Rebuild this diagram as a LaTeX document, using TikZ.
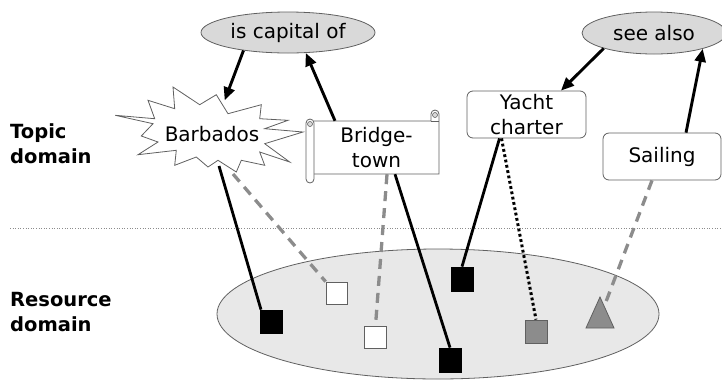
\documentclass[tikz,border=0pt]{standalone}
\usepackage{fontspec}
\setmainfont{DejaVu Sans}
\usetikzlibrary{arrows.meta,shapes.geometric}
\definecolor{ovalfill}{HTML}{D9D9D9}
\definecolor{resfill}{HTML}{E8E8E8}
\definecolor{dashgray}{HTML}{8C8C8C}
\definecolor{edgegray}{HTML}{606060}
\begin{document}
\begin{tikzpicture}[x=1pt,y=-1pt,
  txt/.style={font=\fontsize{20}{25}\selectfont, align=center, inner sep=0pt},
  oval/.style={txt, ellipse, draw=edgegray, line width=0.8pt, fill=ovalfill},
  topicbox/.style={txt, rectangle, rounded corners=6pt, draw=edgegray, line width=0.8pt, fill=white},
  lbl/.style={font=\fontsize{19.5}{25}\selectfont\bfseries, anchor=base west, inner sep=0pt},
  arr/.style={line width=2.9pt, -{Triangle[length=13pt,width=11pt]}},
  solidln/.style={line width=2.8pt},
  dashln/.style={line width=3.3pt, dashgray, dash pattern=on 10pt off 7pt},
  dotln/.style={line width=3pt, dash pattern=on 2.8pt off 2.6pt},
  sqbase/.style={rectangle, inner sep=0pt, line width=0.8pt, minimum width=22pt, minimum height=23pt},
  blacksq/.style={sqbase, fill=black, draw=black},
  whitesq/.style={sqbase, fill=white, draw=edgegray},
  graysq/.style={sqbase, fill=dashgray, draw=edgegray}
]
\useasboundingbox (0,0) rectangle (722,381);

% domain labels
\node[lbl] (t1) at (10,138) {Topic};
\node[lbl] (t2) at (10,163) {domain};
\node[lbl] (r1) at (10,306) {Resource};
\node[lbl] (r2) at (10,331) {domain};

% divider
\coordinate (divl) at (10,228);
\coordinate (divr) at (722,228);
\draw[dashgray, line width=0.7pt, dash pattern=on 1pt off 1.6pt] (divl) -- (divr);

% resource domain
\draw[draw=edgegray, line width=0.8pt, fill=resfill] (438,314) ellipse [x radius=221pt, y radius=65pt];

% association ovals
\node[oval, minimum width=174pt, minimum height=41pt] (cap) at (288,32.5) {is capital of};
\node[oval, minimum width=144pt, minimum height=42pt] (se) at (654,33) {see also};

% Barbados starburst
\draw[draw=edgegray, line width=0.8pt, fill=white]
 (115.3,115.3) -- (153,123.7) -- (141.3,136) -- (158,142) -- (138,154.7) -- (176.3,150.3)
 -- (174.7,165.3) -- (196.3,157) -- (208,167) -- (218,160.3) -- (236.3,172) -- (241.3,160.3)
 -- (264.7,165.3) -- (259.7,152) -- (289.7,162) -- (264.7,143.7) -- (303,132) -- (264.7,128.7)
 -- (288,120.3) -- (259.7,118.7) -- (261.3,104.7) -- (228,113.7) -- (216.3,94.7) -- (199.7,104.7)
 -- (173,87) -- (174.7,108.7) -- (148,100.3) -- (154.7,118.7) -- cycle;
\node[txt] (bb) at (212,134.5) {Barbados};
\coordinate (bbtop) at (224.7,100.3);
\coordinate (bbsolid) at (219,166);
\coordinate (bbdash) at (233,174);

% Bridgetown scroll
\fill[white] (314,121) rectangle (439,174);
\draw[edgegray, line width=0.8pt] (314,121) -- (431,121) -- (431,114) arc[start angle=180, end angle=0, radius=4pt] -- (439,174) -- (314,174);
\draw[edgegray, line width=0.8pt] (431,121) -- (439,121);
\draw[edgegray, line width=0.6pt, fill=ovalfill] (435,115) circle[radius=2.5pt];
\draw[edgegray, line width=0.8pt, fill=white, rounded corners=4pt] (306,119) rectangle (314,183);
\draw[edgegray, line width=0.6pt, fill=ovalfill] (310,124) circle[radius=2.5pt];
\node[txt, minimum width=125pt, minimum height=53pt] (bt) at (376.5,147.5) {Bridge-\\town};

% Yacht charter and Sailing
\node[topicbox, minimum width=119pt, minimum height=47pt] (yc) at (526.5,114.5) {Yacht\\charter};
\node[topicbox, minimum width=118pt, minimum height=47pt] (sl) at (662,156.5) {Sailing};

% association arrows
\draw[arr] (cap.202) -- (bbtop);
\draw[arr] ([xshift=-41.5pt]bt.north) -- (cap.-49);
\draw[arr] (se.197) -- ([xshift=34.5pt]yc.north);
\draw[arr] ([xshift=24pt]sl.north) -- (se.-18);

% resources
\node[blacksq] (b1) at (271,321.5) {};
\node[whitesq, minimum width=21pt, minimum height=22pt] (w1) at (336.5,293) {};
\node[whitesq, minimum height=22pt] (w2) at (375.5,337) {};
\node[blacksq, minimum height=24pt] (b2) at (450,360) {};
\node[blacksq, minimum height=24pt] (b3) at (462,279) {};
\node[graysq] (g1) at (536,331.5) {};

% occurrence lines
\draw[solidln] (bbsolid) -- ([xshift=-10pt]b1.north);
\draw[dashln] (bbdash) -- (w1.north west);
\draw[dashln] ([xshift=10.5pt]bt.south) -- (w2.north);
\draw[solidln] ([xshift=18.5pt]bt.south) -- (b2.north);
\draw[solidln] ([xshift=-27pt]yc.south) -- (b3.north);
\draw[dotln] ([xshift=-25pt]yc.south) -- (g1.north);

% triangle resource
\draw[draw=edgegray, line width=0.8pt, fill=dashgray] (586,328) -- (600,297) -- (614,328) -- cycle;
\coordinate (tri) at (604,307);
\draw[dashln] ([xshift=-10pt]sl.south) -- (tri);

% redraw squares on top of lines
\node[blacksq] at (b1) {};
\node[whitesq, minimum width=21pt, minimum height=22pt] at (w1) {};
\node[whitesq, minimum height=22pt] at (w2) {};
\node[blacksq, minimum height=24pt] at (b2) {};
\node[blacksq, minimum height=24pt] at (b3) {};
\node[graysq] at (g1) {};
\end{tikzpicture}
\end{document}
